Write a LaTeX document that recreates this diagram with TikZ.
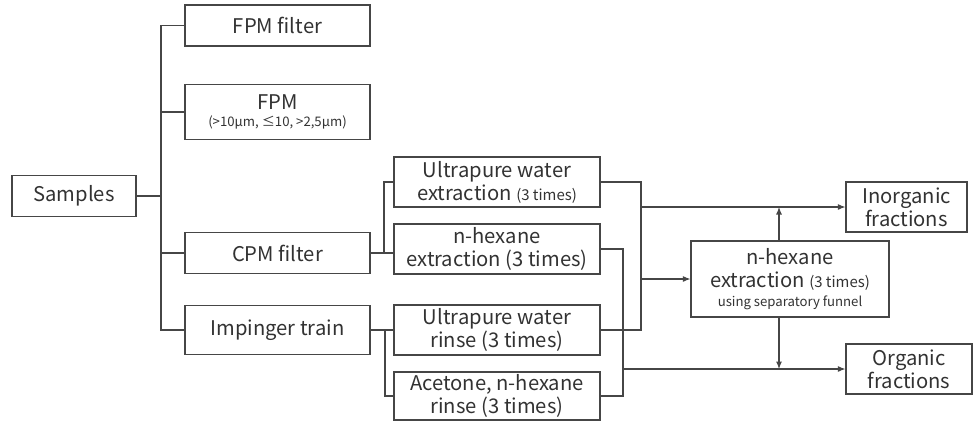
\documentclass[tikz,border=0pt]{standalone}
\usepackage{fontspec}
\setmainfont{Noto Sans CJK KR}
\usetikzlibrary{arrows.meta}
\definecolor{ln}{RGB}{70,70,70}
\definecolor{tx}{RGB}{50,50,50}
\newcommand{\smtxt}{\fontsize{8.5}{10}\selectfont}
\newcommand{\tntxt}{\fontsize{7.5}{9}\selectfont}

\begin{document}
\begin{tikzpicture}[
  x=0.02cm,y=-0.02cm,
  font=\fontsize{11.5}{13}\selectfont,
  box/.style={draw=ln,line width=0.7pt,inner sep=1pt,align=center,text=tx,
              minimum height=1.0cm},
  lbox/.style={box,minimum width=3.7cm,minimum height=0.82cm},
  mbox/.style={box,minimum width=4.12cm},
  wire/.style={ln,line width=0.6pt},
  arr/.style={wire,-{Latex[length=1.5mm,width=1.2mm]}}
]
\useasboundingbox (0,0) rectangle (979,420);
% first column
\node[box,minimum width=2.48cm,minimum height=0.82cm] (samp) at (74,196) {Samples};
\node[lbox] (fpmf) at (277.5,25.5) {FPM filter};
\node[lbox,minimum height=1.1cm] (fpm) at (277.5,112)
  {FPM\\[-3pt]{\tntxt(>10μm, ≤10, >2,5μm)}};
\node[lbox] (cpm) at (277.5,253) {CPM filter};
\node[lbox,minimum height=0.98cm] (imp) at (277.5,330) {Impinger train};
% second column
\node[mbox] (uwe) at (497,182) {Ultrapure water\\extraction {\smtxt(3 times)}};
\node[mbox] (hxe) at (497,249) {n-hexane\\extraction (3 times)};
\node[mbox] (uwr) at (497,330) {Ultrapure water\\rinse (3 times)};
\node[mbox,minimum height=0.96cm] (acr) at (497,396) {Acetone, n-hexane\\rinse (3 times)};
% right side
\node[box,minimum width=3.96cm,minimum height=1.52cm] (sep) at (790,279)
  {n-hexane\\extraction {\smtxt(3 times)}\\[-2pt]{\tntxt using separatory funnel}};
\node[box,minimum width=2.42cm] (inorg) at (906.5,207) {Inorganic\\fractions};
\node[box,minimum width=2.52cm] (org) at (909,369) {Organic\\fractions};
% junctions
\coordinate (sj) at (161,196);
\coordinate (cj) at (384,253);
\coordinate (ij) at (385,330);
\coordinate (wj) at (641,207);
\coordinate (oj) at (623,369);
\coordinate (su) at ([xshift=-0.22cm]sep.north);
\coordinate (sd) at ([xshift=-0.22cm]sep.south);
% samples tree
\draw[wire] (samp.east) -- (sj);
\draw[wire] (fpmf.west) -| (sj) |- (imp.west);
\draw[wire] (fpm.west) -- (fpm.west -| sj);
\draw[wire] (cpm.west) -- (cpm.west -| sj);
% filters and rinses
\draw[wire] (cpm.east) -- (cpm.east -| hxe.west);
\draw[wire] (cj) |- (uwe.west);
\draw[wire] (imp.east) -- (imp.east -| uwr.west);
\draw[wire] (ij) |- (acr.west);
% water side
\draw[wire] (uwe.east) -| (wj) |- (uwr.east);
\draw[arr] (wj |- inorg.west) -- (inorg.west);
\draw[arr] (wj |- sep.west) -- (sep.west);
% solvent side
\draw[wire] (hxe.east) -| (oj) |- (acr.east);
\draw[arr] (oj |- org.west) -- (org.west);
% funnel outputs
\draw[arr] (su) -- (su |- inorg.west);
\draw[arr] (sd) -- (sd |- org.west);
\end{tikzpicture}
\end{document}
